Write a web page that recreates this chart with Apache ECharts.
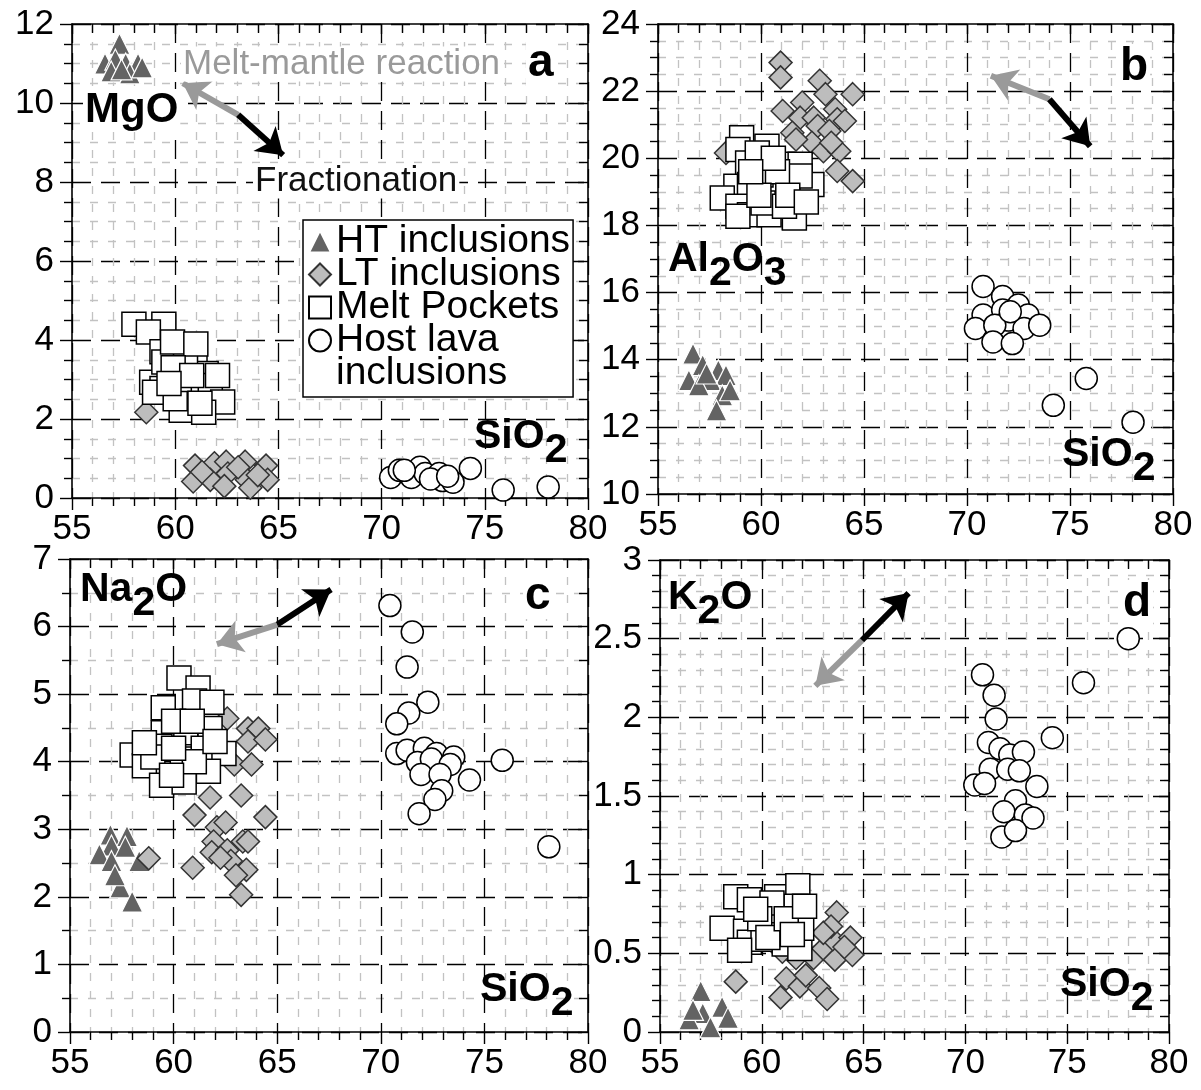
<!DOCTYPE html>
<html>
<head>
<meta charset="utf-8">
<script src="https://cdn.jsdelivr.net/npm/echarts@6/dist/echarts.min.js"></script>
<style>
  html, body { margin: 0; padding: 0; background: #fff; }
  #chart { width: 1201px; height: 1090px; }
</style>
</head>
<body>
<div id="chart"></div>
<script>
// SiO2 axis, common to all panels
const xMin = 55, xMax = 80, xStep = 5;
// y axes of panels a..d
const yMin = [0, 10, 0, 0];
const yMax = [12, 24, 7, 3];
const yStep = [2, 2, 1, 0.5];
const yMinorSplit = [4, 4, 2, 5];

// panel a : MgO vs SiO2
const htA = [[57.3,11.5],[56.6,11.0],[57.1,11.1],[57.6,11.0],[58.2,11.0],[56.9,10.8],[57.8,10.75],[58.4,10.9],[57.4,10.85]];
const ltA = [[60.96,0.82],[61.9,0.88],[62.47,0.92],[63.39,0.92],[64.4,0.82],[60.87,0.42],[61.7,0.46],[62.55,0.62],[63.47,0.46],[64.48,0.46],[62.38,0.3],[63.64,0.26],[63.05,0.78],[58.6,2.17],[61.3,0.66],[64.0,0.58]];
const mpA = [[58.0,4.4],[59.45,4.4],[58.7,4.2],[59.36,3.7],[60.5,3.8],[60.96,3.45],[61.5,3.15],[58.86,2.93],[59.36,2.77],[59.45,3.44],[60.5,3.36],[61.0,2.68],[61.7,2.85],[62.3,2.43],[60.29,2.22],[61.38,2.17],[59.0,2.68],[60.0,2.51],[62.05,3.1],[59.87,3.95],[60.2,3.0],[61.0,3.9],[59.9,3.3],[60.8,3.1],[61.2,2.4],[59.7,2.9]];
const hlA = [[70.44,0.52],[70.86,0.7],[71.44,0.52],[71.86,0.78],[72.11,0.62],[72.79,0.62],[72.95,0.44],[73.46,0.4],[72.37,0.48],[74.3,0.75],[75.89,0.2],[78.07,0.28],[71.1,0.7],[73.2,0.55]];

// panel b : Al2O3 vs SiO2
const htB = [[56.7,14.18],[57.17,13.84],[57.93,13.69],[58.3,13.54],[56.5,13.39],[57.55,13.39],[56.98,13.24],[58.12,12.94],[58.5,13.09],[57.84,12.49],[57.36,13.59]];
const ltB = [[58.3,20.16],[60.95,22.85],[60.95,22.41],[62.85,22.31],[63.13,21.91],[64.45,21.91],[61.05,21.41],[62.0,21.66],[61.9,21.21],[62.56,21.21],[63.6,21.46],[63.7,21.16],[64.07,21.11],[61.52,20.76],[62.75,20.96],[63.32,20.81],[62.47,20.46],[63.03,20.21],[63.8,20.21],[61.7,20.56],[63.7,19.62],[64.45,19.32],[63.41,20.46]];
const mpB = [[59.06,20.61],[58.88,20.26],[60.29,20.36],[59.35,19.86],[61.05,19.82],[61.9,19.82],[58.78,19.17],[59.44,19.22],[60.48,19.12],[61.52,19.02],[62.47,19.22],[58.12,18.82],[58.88,18.57],[59.44,18.32],[60.39,18.32],[61.62,18.22],[58.88,18.27],[60.1,18.67],[61.14,18.57],[59.82,20.16],[61.9,19.47],[60.0,19.5],[60.8,19.6],[59.9,18.9],[61.3,18.9],[60.6,20.0],[59.5,19.6],[62.2,18.7]];
const hlB = [[70.78,16.18],[71.73,15.88],[70.78,15.33],[71.73,15.48],[72.49,15.63],[72.96,15.33],[72.01,15.18],[70.41,14.93],[71.35,15.03],[72.77,14.93],[73.53,15.03],[71.26,14.53],[72.2,14.48],[72.1,15.43],[74.19,12.64],[75.79,13.44],[78.06,12.14]];

// panel c : Na2O vs SiO2
const htC = [[56.95,2.92],[57.75,2.9],[57.0,2.76],[56.42,2.63],[57.67,2.74],[57.0,2.53],[58.34,2.53],[57.42,2.14],[58.0,1.93],[57.17,2.32]];
const ltC = [[58.8,2.57],[62.59,4.64],[63.59,4.49],[64.09,4.49],[63.59,4.3],[64.43,4.33],[62.93,3.96],[63.76,3.96],[61.76,3.47],[63.26,3.5],[61.01,3.21],[64.43,3.18],[62.09,3.03],[62.51,3.1],[61.93,2.82],[63.34,2.82],[63.59,2.82],[61.84,2.66],[62.59,2.69],[62.76,2.53],[60.92,2.43],[63.51,2.4],[63.01,2.32],[63.26,2.03],[62.26,2.58]];
const mpC = [[60.26,5.24],[61.18,5.09],[61.01,4.9],[61.85,4.88],[59.5,4.8],[59.5,4.43],[60.59,4.43],[61.76,4.49],[58.0,4.1],[58.59,3.94],[59.34,4.23],[60.42,4.04],[61.43,4.2],[62.43,4.12],[61.68,3.86],[59.42,3.65],[60.51,3.7],[59.0,4.07],[58.59,4.28],[60.0,4.6],[60.9,4.6],[61.0,4.0],[60.0,4.2],[59.9,3.8],[62.0,4.3]];
const hlC = [[70.44,6.31],[71.52,5.92],[71.27,5.4],[72.27,4.88],[71.35,4.72],[70.77,4.56],[70.77,4.12],[71.27,4.17],[72.1,4.2],[72.69,4.12],[73.52,4.07],[71.77,3.99],[72.44,4.04],[73.35,3.96],[71.94,3.81],[72.86,3.81],[74.28,3.73],[72.94,3.57],[72.61,3.44],[71.85,3.23],[75.86,4.02],[78.11,2.74]];

// panel d : K2O vs SiO2
const htD = [[57.0,0.26],[57.1,0.12],[58.05,0.16],[56.43,0.08],[57.48,0.03],[58.34,0.09],[56.62,0.14]];
const ltD = [[58.72,0.32],[60.92,0.22],[61.2,0.34],[61.87,0.29],[62.16,0.36],[62.82,0.28],[63.21,0.21],[61.68,0.47],[62.54,0.47],[63.02,0.53],[63.59,0.46],[63.49,0.59],[64.35,0.6],[64.45,0.49],[64.06,0.54],[63.68,0.76],[63.4,0.67],[63.02,0.63],[61.01,0.51]];
const mpD = [[58.72,0.86],[59.39,0.84],[60.73,0.86],[61.77,0.93],[58.05,0.66],[59.2,0.64],[60.44,0.67],[59.39,0.57],[60.06,0.59],[61.1,0.56],[61.87,0.53],[58.91,0.52],[60.92,0.77],[61.68,0.8],[61.96,0.66],[60.5,0.82],[59.9,0.72],[60.3,0.6],[61.2,0.72],[61.5,0.62],[59.7,0.78],[62.1,0.8]];
const hlD = [[70.84,2.27],[71.41,2.14],[71.51,1.99],[71.13,1.84],[71.7,1.8],[72.18,1.76],[72.85,1.78],[71.22,1.67],[72.08,1.67],[72.65,1.66],[70.46,1.57],[70.94,1.58],[73.51,1.56],[72.46,1.47],[71.89,1.4],[72.94,1.38],[73.32,1.36],[71.79,1.24],[72.46,1.28],[74.27,1.87],[75.8,2.22],[78.0,2.5]];

// trend arrows: [middle, grey head (melt-mantle reaction), black head (fractionation)]
const arrowA = [[63.05,9.7],[60.37,10.5],[65.23,8.68]];
const arrowB = [[74.0,21.76],[71.16,22.46],[75.98,20.36]];
const arrowC = [[65.01,6.03],[62.09,5.74],[67.6,6.55]];
const arrowD = [[64.92,2.49],[62.63,2.2],[67.21,2.79]];

const FONT = '"Liberation Sans", Arial, Helvetica, sans-serif';

const panels = [
  { ht: htA, lt: ltA, mp: mpA, hl: hlA, arrow: arrowA },
  { ht: htB, lt: ltB, mp: mpB, hl: hlB, arrow: arrowB },
  { ht: htC, lt: ltC, mp: mpC, hl: hlC, arrow: arrowC },
  { ht: htD, lt: ltD, mp: mpD, hl: hlD, arrow: arrowD }
];

const grids = [
  { left: 72,  top: 24,  width: 516, height: 474 },
  { left: 658, top: 24,  width: 515, height: 470 },
  { left: 70,  top: 559, width: 518, height: 473 },
  { left: 660, top: 560, width: 509, height: 472 }
];

const axisLine = { show: true, onZero: false, lineStyle: { color: '#000', width: 1.6 } };
const tickStyle = { color: '#000', width: 1.4 };
const majorGrid = { show: true, lineStyle: { color: '#000', type: [19, 10], width: 1.3 } };
const minorGrid = { show: true, lineStyle: { color: '#c2c2c2', type: [8, 10], width: 1.3 } };
const tickLabel = { fontSize: 35, color: '#000', fontFamily: FONT };

let xAxis = [], yAxis = [], series = [];

grids.forEach(function (g, i) {
  let base = { gridIndex: i, type: 'value' };
  // bottom axis with labels, ticks outside
  xAxis.push(Object.assign({}, base, {
    min: xMin, max: xMax, interval: xStep, position: 'bottom',
    axisLine: axisLine,
    axisTick: { show: true, length: 12, lineStyle: tickStyle },
    minorTick: { show: true, splitNumber: 5, length: 8, lineStyle: tickStyle },
    axisLabel: Object.assign({ margin: 14 }, tickLabel),
    splitLine: majorGrid,
    minorSplitLine: minorGrid
  }));
  // mirrored top axis, ticks inside
  xAxis.push(Object.assign({}, base, {
    min: xMin, max: xMax, interval: xStep, position: 'top',
    axisLine: axisLine,
    axisTick: { show: true, inside: true, length: 10, lineStyle: tickStyle },
    minorTick: { show: true, splitNumber: 5, length: 9, lineStyle: tickStyle },
    axisLabel: { show: false },
    splitLine: { show: false }
  }));
  yAxis.push(Object.assign({}, base, {
    min: yMin[i], max: yMax[i], interval: yStep[i], position: 'left',
    axisLine: axisLine,
    axisTick: { show: true, length: 12, lineStyle: tickStyle },
    minorTick: { show: true, splitNumber: yMinorSplit[i], length: 8, lineStyle: tickStyle },
    axisLabel: Object.assign({ margin: 18 }, tickLabel),
    splitLine: majorGrid,
    minorSplitLine: minorGrid
  }));
  yAxis.push(Object.assign({}, base, {
    min: yMin[i], max: yMax[i], interval: yStep[i], position: 'right',
    axisLine: axisLine,
    axisTick: { show: true, inside: true, length: 10, lineStyle: tickStyle },
    minorTick: { show: true, splitNumber: yMinorSplit[i], length: 9, lineStyle: tickStyle },
    axisLabel: { show: false },
    splitLine: { show: false }
  }));

  let p = panels[i];
  let ax = { xAxisIndex: 2 * i, yAxisIndex: 2 * i };
  series.push(Object.assign({
    name: 'HT inclusions', type: 'scatter', symbol: 'triangle', symbolSize: 21,
    itemStyle: { color: '#636363', borderColor: '#fff', borderWidth: 1.2, opacity: 1 },
    data: p.ht
  }, ax));
  series.push(Object.assign({
    name: 'LT inclusions', type: 'scatter', symbol: 'diamond', symbolSize: 23,
    itemStyle: { color: '#bdbdbd', borderColor: '#333', borderWidth: 1.5, opacity: 1 },
    data: p.lt
  }, ax));
  series.push(Object.assign({
    name: 'Melt Pockets', type: 'scatter', symbol: 'rect', symbolSize: 24,
    itemStyle: { color: '#fff', borderColor: '#000', borderWidth: 1.5, opacity: 1 },
    data: p.mp,
    markLine: {
      silent: true, animation: false,
      symbol: ['none', 'arrow'], symbolSize: 25,
      label: { show: false },
      data: [
        [{ coord: p.arrow[0], lineStyle: { color: '#9a9a9a', width: 6, type: 'solid' } }, { coord: p.arrow[1] }],
        [{ coord: p.arrow[0], lineStyle: { color: '#000', width: 6, type: 'solid' } }, { coord: p.arrow[2] }]
      ]
    }
  }, ax));
  series.push(Object.assign({
    name: 'Host lava', type: 'scatter', symbol: 'circle', symbolSize: 22,
    itemStyle: { color: '#fff', borderColor: '#000', borderWidth: 1.5, opacity: 1 },
    data: p.hl
  }, ax));
});

// second line of the legend entry "Host lava / inclusions"
series.push({ name: 'inclusions', type: 'scatter', xAxisIndex: 0, yAxisIndex: 0, data: [] });

const boldRich = {
  m: { fontSize: 41, fontWeight: 'bold', fontFamily: FONT, verticalAlign: 'top', color: '#000' },
  s: { fontSize: 41, fontWeight: 'bold', fontFamily: FONT, padding: [14, 0, 0, 0], verticalAlign: 'bottom', color: '#000' }
};

function formula(text, x, y) {
  return {
    type: 'text', x: x, y: y, z: 10,
    style: { text: text, rich: boldRich, align: 'left', verticalAlign: 'top' }
  };
}
function plain(text, x, y, size, color, bold) {
  return {
    type: 'text', x: x, y: y, z: 10,
    style: {
      text: text, fill: color, font: (bold ? 'bold ' : '') + size + 'px ' + FONT,
      align: 'left', verticalAlign: 'middle', backgroundColor: '#fff', padding: [0, 2, 0, 2]
    }
  };
}

const graphics = [
  plain('Melt-mantle reaction', 181, 64, 35, '#9a9a9a', false),
  plain('Fractionation', 253, 181, 35, '#111', false),
  plain('MgO', 83, 110, 42, '#000', true),
  plain('a', 526, 63, 46, '#000', true),
  formula('{m|SiO}{s|2}', 474, 416),
  plain('b', 1118, 67, 46, '#000', true),
  formula('{m|Al}{s|2}{m|O}{s|3}', 668, 239),
  formula('{m|SiO}{s|2}', 1062, 434),
  formula('{m|Na}{s|2}{m|O}', 80, 569),
  plain('c', 523, 596, 46, '#000', true),
  formula('{m|SiO}{s|2}', 480, 969),
  formula('{m|K}{s|2}{m|O}', 668, 577),
  plain('d', 1121, 603, 46, '#000', true),
  formula('{m|SiO}{s|2}', 1060, 964)
];

const chart = echarts.init(document.getElementById('chart'), null, { renderer: 'canvas' });
chart.setOption({
  backgroundColor: '#fff',
  animation: false,
  grid: grids.map(function (g) { return Object.assign({ containLabel: false }, g); }),
  xAxis: xAxis,
  yAxis: yAxis,
  legend: {
    orient: 'vertical', left: 303, top: 220, z: 20,
    padding: [2, 3, 4, 5], itemGap: -6, itemWidth: 22, itemHeight: 22,
    borderColor: '#000', borderWidth: 1.5, backgroundColor: '#fff',
    selectedMode: false,
    textStyle: { fontSize: 39, fontFamily: FONT, color: '#000' },
    data: [
      { name: 'HT inclusions', icon: 'triangle' },
      { name: 'LT inclusions', icon: 'diamond' },
      { name: 'Melt Pockets', icon: 'rect' },
      { name: 'Host lava', icon: 'circle' },
      { name: 'inclusions', icon: 'none' }
    ]
  },
  graphic: graphics,
  series: series
});
</script>
</body>
</html>
